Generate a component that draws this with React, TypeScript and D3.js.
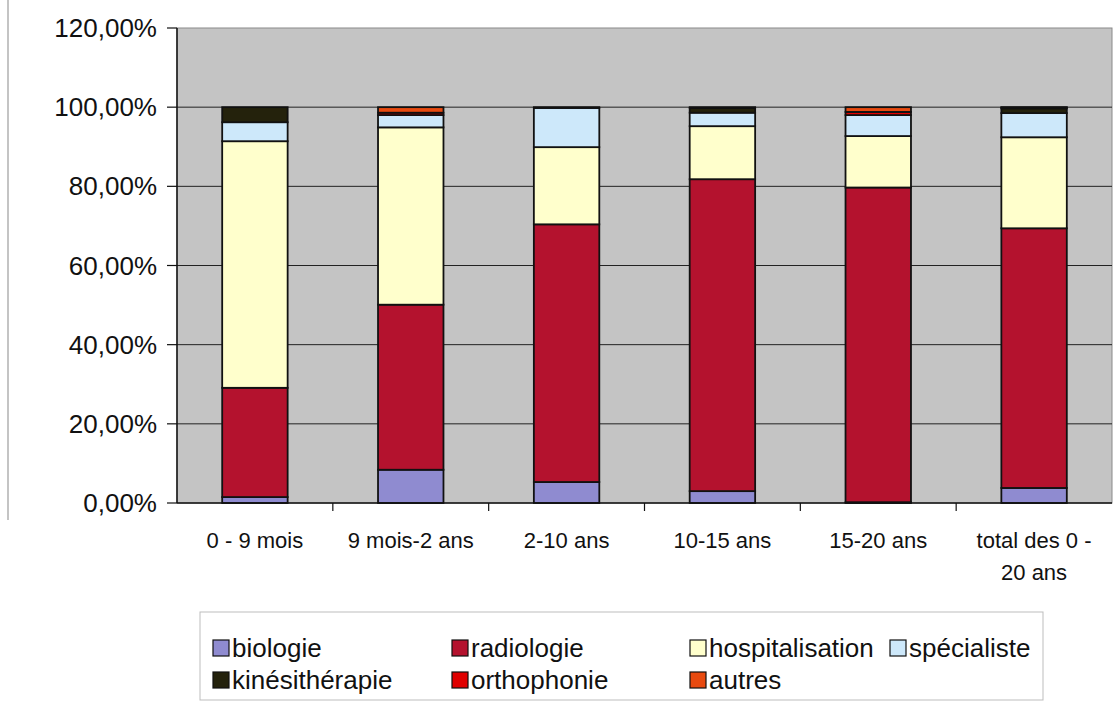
import React from "react";
import * as d3 from "d3";

const categories = ["0 - 9 mois", "9 mois-2 ans", "2-10 ans", "10-15 ans", "15-20 ans", "total des 0 - 20 ans"];
const biologie = [1.5, 8.4, 5.3, 3.0, 0.2, 3.8];
const radiologie = [27.6, 41.7, 65.1, 78.8, 79.5, 65.6];
const hospitalisation = [62.3, 44.8, 19.5, 13.4, 13.0, 23.0];
const specialiste = [4.8, 3.1, 9.9, 3.4, 5.3, 6.1];
const kinesitherapie = [3.8, 0, 0.2, 1.2, 0, 1.2];
const orthophonie = [0, 0.6, 0, 0.2, 0.8, 0.2];
const autres = [0, 1.4, 0, 0, 1.2, 0.1];
const yTicks = [0, 20, 40, 60, 80, 100, 120];

const seriesNames = ["biologie", "radiologie", "hospitalisation", "spécialiste", "kinésithérapie", "orthophonie", "autres"];
const seriesValues = [biologie, radiologie, hospitalisation, specialiste, kinesitherapie, orthophonie, autres];
const colors = ["#8f8bd0", "#b4122e", "#ffffcc", "#cde8fa", "#24220c", "#e00000", "#e84a10"];

const W = 1117, H = 704;
const plot = { left: 177, right: 1112, top: 28, bottom: 503 };

export default function App() {
  const x = d3.scaleBand<string>().domain(categories).range([plot.left, plot.right]).paddingInner(0.58).paddingOuter(0.29);
  const band = d3.scaleBand<string>().domain(categories).range([plot.left, plot.right]);
  const y = d3.scaleLinear().domain([0, 120]).range([plot.bottom, plot.top]);

  const table = categories.map((c, i) => {
    const row: Record<string, any> = { cat: c };
    seriesNames.forEach((s, j) => (row[s] = seriesValues[j][i]));
    return row;
  });
  const stacked = d3.stack().keys(seriesNames)(table as any);

  const fmt = (v: number) => v.toFixed(2).replace(".", ",") + "%";
  const font = "Liberation Sans, Arial, sans-serif";

  const legendRows = [
    [0, 1, 2, 3],
    [4, 5, 6],
  ];
  const legendX = [213, 452, 690, 890];
  const legendY = [648, 680];

  return (
    <svg width={W} height={H} style={{ position: "absolute", left: 0, top: 0, background: "#fff" }} fontFamily={font}>
      <line x1={8} x2={8} y1={0} y2={520} stroke="#b0b0b0" strokeWidth={1.5} />
      <rect x={plot.left} y={plot.top} width={plot.right - plot.left} height={plot.bottom - plot.top} fill="#c4c4c4" stroke="#8a8a8a" strokeWidth={1} />
      {yTicks.filter((t) => t > 0 && t < 120).map((t) => (
        <line key={t} x1={plot.left} x2={plot.right} y1={y(t)} y2={y(t)} stroke="#222" strokeWidth={1} />
      ))}
      {stacked.map((s, j) =>
        s.map((d, i) => {
          const h = y(d[0]) - y(d[1]);
          if (h <= 0) return null;
          return (
            <rect key={`${j}-${i}`} x={x(categories[i])} y={y(d[1])} width={x.bandwidth()} height={h}
              fill={colors[j]} stroke="#111" strokeWidth={1.8} />
          );
        })
      )}
      <line x1={plot.left} x2={plot.left} y1={plot.top} y2={plot.bottom} stroke="#111" strokeWidth={1.5} />
      <line x1={plot.left} x2={plot.right} y1={plot.bottom} y2={plot.bottom} stroke="#111" strokeWidth={1.5} />
      {yTicks.map((t) => (
        <g key={t}>
          <line x1={plot.left - 10} x2={plot.left} y1={y(t)} y2={y(t)} stroke="#111" strokeWidth={1.2} />
          <text x={plot.left - 20} y={y(t)} dy="0.35em" textAnchor="end" fontSize={26} fill="#111">{fmt(t)}</text>
        </g>
      ))}
      {categories.map((c, i) => (
        <line key={c} x1={band(c)! + band.bandwidth()} x2={band(c)! + band.bandwidth()} y1={plot.bottom} y2={plot.bottom + 8}
          stroke="#111" strokeWidth={1.2} style={{ display: i === categories.length - 1 ? "none" : undefined }} />
      ))}
      {categories.map((c) => {
        const cx = band(c)! + band.bandwidth() / 2;
        const lines = c === "total des 0 - 20 ans" ? ["total des 0 -", "20 ans"] : [c];
        return (
          <text key={c} x={cx} y={548} textAnchor="middle" fontSize={22} fill="#111">
            {lines.map((l, k) => (
              <tspan key={k} x={cx} dy={k === 0 ? 0 : 32}>{l}</tspan>
            ))}
          </text>
        );
      })}
      <rect x={200} y={612} width={843} height={88} fill="#fff" stroke="#bdbdbd" strokeWidth={1} />
      {legendRows.map((row, r) =>
        row.map((si, k) => (
          <g key={si}>
            <rect x={legendX[k]} y={legendY[r] - 8} width={16} height={16} fill={colors[si]} stroke="#111" strokeWidth={1.2} />
            <text x={legendX[k] + 19} y={legendY[r]} dy="0.35em" fontSize={26} fill="#111">{seriesNames[si]}</text>
          </g>
        ))
      )}
    </svg>
  );
}
